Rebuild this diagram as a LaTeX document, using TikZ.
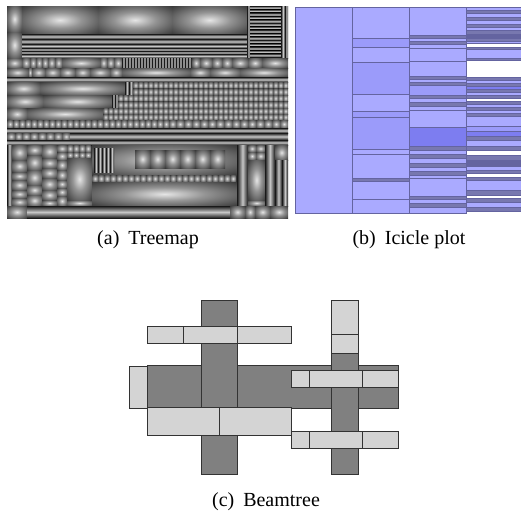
\documentclass[tikz,border=0pt]{standalone}
\usepackage{fontspec}
\setmainfont{Liberation Serif}
\definecolor{icb}{RGB}{170,170,255}
\definecolor{ic2}{RGB}{155,155,250}
\definecolor{ic3}{RGB}{125,125,240}
\definecolor{icg}{RGB}{120,120,175}
\definecolor{icd}{RGB}{100,100,160}
\definecolor{bdark}{RGB}{128,128,128}
\definecolor{blight}{RGB}{212,212,212}
\pgfdeclareradialshading{cush}{\pgfpoint{0bp}{0bp}}{color(0bp)=(white!90!black); color(14bp)=(black!42); color(32bp)=(black!72); color(45bp)=(black!92); color(60bp)=(black)}
\newcommand\cuR[4]{\shade[shading=cush] (#1,#2) rectangle (#3,#4);}
\newcommand\cuH[4]{\shade[top color=black!90,bottom color=black!90,middle color=white!78!black] (#1,#2) rectangle (#3,#4);}
\newcommand\cuV[4]{\shade[left color=black!90,right color=black!90,middle color=white!78!black] (#1,#2) rectangle (#3,#4);}
\tikzset{
  ic/.style={draw=icd, line width=0.7pt},
  dk/.style={fill=bdark, draw=black!80, line width=0.8pt},
  lt/.style={fill=blight, draw=black!80, line width=0.8pt},
  captext/.style={font=\fontsize{20}{24}\selectfont, inner sep=0pt}
}
\begin{document}
\begin{tikzpicture}[x=1pt,y=-1pt]
\useasboundingbox (0,0) rectangle (521,515);
% ---------------- Treemap ----------------
\fill[black!80] (7,6) rectangle (288,218);
\cuR{7}{6}{22}{32}
\cuR{7}{32}{22}{58}
\foreach \a/\b in {22/98,98/172,172/247}{
  \cuR{\a}{6}{\b}{34}
  \foreach \p/\q in {34/39,39/44,44/48,48/51,51/54,54/58}{\cuH{\a}{\p}{\b}{\q}}
}
\cuV{247}{6}{250}{58}
\foreach \y in {6,9.4,...,55}{\cuH{250}{\y}{266}{\y+3.4}\cuH{266}{\y}{281}{\y+3.4}}
\cuV{281}{6}{285}{58}
\cuV{285}{6}{288}{58}
% row 58-68
\foreach \a/\b in {7/22,22/30,30/36,36/42,42/48,48/55,55/62,62/100,100/107,107/114,114/122,192/200,200/212,212/222,222/232,232/248,248/262,262/288}{\cuR{\a}{58}{\b}{68}}
\foreach \a in {122,125,...,189}{\cuV{\a}{58}{\a+3}{68}}
% row 68-77
\foreach \a/\b in {7/28,28/32,32/45,45/60,60/75,75/90,90/110,110/122,122/190,190/210,210/240,240/288}{\cuR{\a}{68}{\b}{77}}
% row 77-82
\foreach \a/\b in {7/28,28/105,105/225,225/235,235/288}{\cuH{\a}{77}{\b}{82}}
% row A 82-95
\cuR{7}{82}{40}{95}\cuR{40}{82}{125}{95}\cuV{125}{82}{129}{95}\cuV{129}{82}{133}{95}
\foreach \a in {133,138,...,283}{\cuR{\a}{82}{\a+5}{88.5}\cuR{\a}{88.5}{\a+5}{95}}
% row B 95-108
\cuR{7}{95}{43}{108}\cuR{43}{95}{112}{108}\cuV{112}{95}{115}{108}\cuV{115}{95}{118}{108}
\foreach \a in {118,123,...,283}{\cuR{\a}{95}{\a+5}{101.5}\cuR{\a}{101.5}{\a+5}{108}}
% row C 108-120
\cuR{7}{108}{27}{120}\cuR{27}{108}{103}{120}
\foreach \a in {103,108,...,283}{\cuR{\a}{108}{\a+5}{114}\cuR{\a}{114}{\a+5}{120}}
% row D 120-128
\foreach \a in {7,13,...,163}{\cuR{\a}{120}{\a+6}{128}}
\cuR{169}{120}{176}{128}
\foreach \a in {176,184,...,280}{\cuR{\a}{120}{\a+8}{128}}
% row E 128-133
\cuH{7}{128}{100}{133}\cuH{100}{128}{106}{133}\cuH{106}{128}{288}{133}
% row F 133-140
\foreach \a/\b in {7/15,15/22,22/30,30/38,38/46,46/54,54/62,62/70}{\cuR{\a}{133}{\b}{140}}
\cuH{70}{133}{180}{140}\cuH{180}{133}{230}{140}\cuH{230}{133}{288}{140}
% row G 140-145
\foreach \a/\b in {7/92,92/140,140/200,200/288}{\cuH{\a}{140}{\b}{145}}
% bottom-left columns
\cuV{7}{145}{12}{206}
\foreach \p/\q in {145/160,160/172,172/180,180/190,190/198,198/206}{\cuR{12}{\p}{27}{\q}}
\foreach \p/\q in {145/155,155/170,170/185,185/195,195/206}{\cuR{27}{\p}{42}{\q}}
\foreach \p/\q in {145/158,158/168,168/178,178/190,190/200,200/206}{\cuR{42}{\p}{57}{\q}}
\foreach \p/\q in {145/152,152/160,160/170,170/180,180/188,188/196,196/206}{\cuR{57}{\p}{67}{\q}}
\foreach \a in {67,73,...,85}{\cuR{\a}{145}{\a+6}{152}\cuR{\a}{152}{\a+6}{158}}
\cuR{67}{158}{92}{200}\cuR{67}{200}{92}{206}
% bottom-centre
\cuR{92}{145}{237}{175}
\foreach \a in {94,98,...,110}{\cuV{\a}{148}{\a+4}{172}}
\foreach \a in {135,150,...,210}{\cuR{\a}{150}{\a+15}{168}}
\foreach \a in {92,98,...,230}{\cuR{\a}{175}{\a+6}{182}}
\cuR{92}{182}{237}{206}
% bottom-right
\cuV{237}{145}{248}{160}\cuV{237}{160}{248}{190}\cuV{237}{190}{248}{206}
\cuR{248}{145}{256}{152}\cuR{256}{145}{265}{152}\cuR{248}{152}{256}{160}\cuR{256}{152}{265}{160}
\cuR{248}{160}{265}{200}\cuR{248}{200}{265}{206}
\cuV{265}{145}{275}{206}
\cuR{275}{145}{288}{160}\cuV{275}{160}{282}{206}\cuV{282}{160}{288}{206}
% bottom strip
\cuR{7}{206}{27}{218}\cuH{27}{206}{230}{218}
\foreach \a/\b in {230/245,245/255,255/270,270/288}{\cuR{\a}{206}{\b}{218}}
% ---------------- Icicle plot ----------------
\filldraw[ic, fill=icb] (295,7) rectangle (352,213);
\foreach \p/\q/\c in {7/38/icb,38/47/ic2,47/62/icb,62/94/ic2,94/111/icb,111/117/ic2,117/149/ic2,149/154/icb,154/178/icb,178/181/icg,181/199/icb,199/213/icb}{
  \filldraw[ic, fill=\c] (352,\p) rectangle (409,\q);}
\foreach \p/\q/\c in {7/35/icb,35/38/icg,38/41/icb,41/44/icg,44/48/icb,48/61/icb,61/76/icb,76/79/icg,79/82/icb,82/85/icg,85/95/ic2,95/98/icg,98/102/icb,102/106/icg,106/110/icb,110/127/icb,127/146/ic3,146/150/icg,150/154/icb,154/158/icg,158/163/icb,163/167/icg,167/171/icb,171/175/icg,175/178/icb,178/196/icb,196/199/icg,199/203/icb,203/207/icg,207/213/icb}{
  \filldraw[ic, fill=\c] (409,\p) rectangle (466,\q);}
\foreach \p/\q/\c in {7/10/icb,10/13/icg,13/17/icb,17/20/icg,20/24/icb,24/27/icg,27/30/icb,30/34/icg,34/38/icd,38/41/icg,41/43/icb,43/47/white,47/49/icg,49/58/icb,58/60/icg,60/77/white,77/80/icg,80/83/icb,83/86/icg,86/89/ic3,89/92/icg,92/95/icb,95/98/icg,98/101/white,101/104/icg,104/107/icb,107/110/icg,110/113/icb,113/116/icg,116/126/icb,126/131/ic2,131/136/ic3,136/140/icg,140/146/icb,146/150/icg,150/155/white,155/160/icg,160/166/icd,166/170/icb,170/173/icg,173/177/white,177/180/icg,180/190/icb,190/195/icg,195/198/white,198/202/icg,202/207/icb,207/211/icg}{
  \filldraw[ic, fill=\c] (466,\p) rectangle (523,\q);}
% ---------------- Beamtree ----------------
\filldraw[dk] (147,365) rectangle (398,408);
\filldraw[dk] (201,300) rectangle (237,474);
\filldraw[dk] (331,353) rectangle (358,474);
\filldraw[lt] (129,366) rectangle (147,408);
\filldraw[lt] (331,300) rectangle (358,334);
\filldraw[lt] (331,334) rectangle (358,353);
\filldraw[lt] (147,326) rectangle (183,343);
\filldraw[lt] (183,326) rectangle (237,343);
\filldraw[lt] (237,326) rectangle (291,343);
\filldraw[lt] (147,407) rectangle (219,435);
\filldraw[lt] (219,407) rectangle (291,435);
\filldraw[lt] (291,370) rectangle (309,387);
\filldraw[lt] (309,370) rectangle (362,387);
\filldraw[lt] (362,370) rectangle (398,387);
\filldraw[lt] (291,431) rectangle (309,448);
\filldraw[lt] (309,431) rectangle (362,448);
\filldraw[lt] (362,431) rectangle (398,448);
% ---------------- Captions ----------------
\node[captext] (capa) at (148,240) {(a)\hspace{0.45em}Treemap};
\node[captext] (capb) at (409,240) {(b)\hspace{0.45em}Icicle plot};
\node[captext] (capc) at (266,502) {(c)\hspace{0.45em}Beamtree};
\end{tikzpicture}
\end{document}
